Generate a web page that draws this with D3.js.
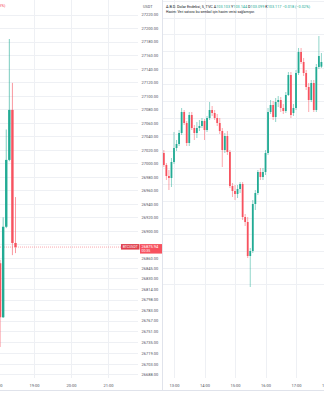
<!DOCTYPE html>
<html><head><meta charset="utf-8">
<script src="https://cdn.jsdelivr.net/npm/d3@7"></script>
<style>
html,body{margin:0;padding:0;background:#fff;overflow:hidden}
svg{display:block}
text{font-family:Roboto,"Liberation Sans",sans-serif}
</style>
</head><body>
<svg id="chart" width="324" height="400"></svg>
<script>
// ---- BTC/USDT, 5 minute (left pane) ----
const btcSymbol = "BTCUSDT";
const btcTime  = ["18:05","18:10","18:15","18:20","18:25","18:30"];
const btcOpen  = [26852, 26772, 26906, 27005, 27079, 26882];
const btcHigh  = [26857, 26920, 27050, 27184, 27119, 26950];
const btcLow   = [26728, 26771, 26904, 27003, 26864, 26867];
const btcClose = [26772, 26906, 27005, 27079, 26882, 26875.94];
const btcPriceTicks = [27220,27200,27180,27160,27140,27120,27100,27080,27060,27040,27020,27000,
  26980,26960,26940,26920,26900,26880,26860,26845,26830,26814,26798,26783,26767,26751,26735,26719,26703,26688];
const btcTimeTicks = ["18:00","19:00","20:00","21:00"];

// ---- DXY, 5 minute (right pane) ----
const dxyTime = ["12:40","12:45","12:50","12:55","13:00","13:05","13:10","13:15","13:20","13:25","13:30","13:35",
  "13:40","13:45","13:50","13:55","14:00","14:05","14:10","14:15","14:20","14:25","14:30","14:35",
  "14:40","14:45","14:50","14:55","15:00","15:05","15:10","15:15","15:20","15:25","15:30","15:35",
  "15:40","15:45","15:50","15:55","16:00","16:05","16:10","16:15","16:20","16:25","16:30","16:35",
  "16:40","16:45","16:50","16:55","17:00","17:05","17:10","17:15","17:20","17:25","17:30","17:35",
  "17:40","17:45","17:50"];
const dxyOpen = [102.844,102.808,102.775,102.769,102.817,102.859,102.871,102.904,102.967,102.934,102.874,102.958,
  102.919,102.904,102.919,102.925,102.940,102.913,102.949,102.973,102.964,102.949,102.934,102.910,
  102.853,102.895,102.847,102.745,102.730,102.721,102.736,102.751,102.652,102.637,102.535,102.550,
  102.691,102.724,102.787,102.772,102.787,102.844,102.967,102.988,102.952,102.997,103.003,102.979,
  102.970,103.018,103.078,102.964,102.979,103.084,103.147,103.117,103.084,103.042,103.003,103.054,
  102.973,103.102,103.103];
const dxyHigh = [102.853,102.814,102.793,102.829,102.907,102.883,102.913,102.979,102.973,102.940,102.967,102.967,
  102.928,102.937,102.943,102.949,102.946,102.955,102.997,102.985,102.973,102.961,102.949,102.919,
  102.904,102.910,102.853,102.754,102.748,102.748,102.757,102.757,102.661,102.652,102.559,102.703,
  102.733,102.793,102.799,102.799,102.853,102.979,103.003,103.000,103.009,103.015,103.012,102.991,
  103.027,103.087,103.087,102.991,103.093,103.159,103.159,103.129,103.093,103.054,103.063,103.063,
  103.111,103.195,103.144];
const dxyLow = [102.802,102.763,102.733,102.742,102.811,102.850,102.865,102.898,102.928,102.865,102.865,102.913,
  102.883,102.889,102.910,102.919,102.883,102.907,102.943,102.955,102.943,102.925,102.901,102.802,
  102.844,102.838,102.739,102.712,102.703,102.709,102.724,102.643,102.625,102.529,102.442,102.544,
  102.673,102.718,102.763,102.763,102.778,102.838,102.961,102.943,102.937,102.982,102.967,102.961,
  102.964,103.015,102.949,102.955,102.973,103.078,103.111,103.075,103.033,102.967,102.997,102.967,
  102.967,103.096,103.099];
const dxyClose = [102.808,102.775,102.769,102.817,102.859,102.871,102.904,102.967,102.934,102.874,102.958,102.919,
  102.904,102.919,102.925,102.940,102.913,102.949,102.973,102.964,102.949,102.934,102.910,102.853,
  102.895,102.847,102.745,102.730,102.721,102.736,102.751,102.652,102.637,102.535,102.550,102.691,
  102.724,102.787,102.772,102.787,102.844,102.967,102.988,102.952,102.997,103.003,102.979,102.970,
  103.018,103.078,102.958,102.979,103.084,103.147,103.117,103.084,103.042,103.003,103.054,102.973,
  103.102,103.135,103.117];
const dxyTimeTicks = ["13:00","14:00","15:00","16:00","17:00","18:00"];

const UP = "#22ab94", DOWN = "#f7525f", GRID = "#eef0f4", AXIS_TXT = "#50535e";
const parseT = d3.timeParse("%H:%M");
const fmtT = d3.timeFormat("%H:%M");

const svg = d3.select("#chart");
svg.append("rect").attr("width", 324).attr("height", 400).attr("fill", "#fff");

const plotBottom = 378;

// ---------- left pane ----------
const xL = d3.scaleTime().domain([parseT("19:00"), parseT("21:00")]).range([34, 108]);
const yL = d3.scaleLinear().domain([26688, 27220]).range([374, 14.7]);

svg.append("clipPath").attr("id", "clipL").append("rect")
  .attr("x", 0).attr("y", 0).attr("width", 138).attr("height", plotBottom);
const left = svg.append("g").attr("clip-path", "url(#clipL)");

// grid
left.selectAll("line.hg").data(btcPriceTicks).join("line")
  .attr("x1", 0).attr("x2", 138)
  .attr("y1", d => Math.round(yL(d)) + 0.5).attr("y2", d => Math.round(yL(d)) + 0.5)
  .attr("stroke", GRID);
left.selectAll("line.vg").data(btcTimeTicks).join("line")
  .attr("x1", d => Math.round(xL(parseT(d))) + 0.5).attr("x2", d => Math.round(xL(parseT(d))) + 0.5)
  .attr("y1", 0).attr("y2", plotBottom).attr("stroke", GRID);

const btc = btcTime.map((t, i) => ({t: parseT(t), o: btcOpen[i], h: btcHigh[i], l: btcLow[i], c: btcClose[i]}));
const btcLast = btc[btc.length - 1];

// last price line
left.append("line")
  .attr("x1", 0).attr("x2", 138)
  .attr("y1", yL(btcLast.c)).attr("y2", yL(btcLast.c))
  .attr("stroke", DOWN).attr("stroke-width", 0.7).attr("stroke-dasharray", "1,1").attr("opacity", 0.7);

const candleL = left.selectAll("g.c").data(btc).join("g");
candleL.append("line")
  .attr("x1", d => xL(d.t)).attr("x2", d => xL(d.t))
  .attr("y1", d => yL(d.h)).attr("y2", d => yL(d.l))
  .attr("stroke", d => d.c >= d.o ? UP : DOWN).attr("stroke-width", 0.6);
candleL.append("rect")
  .attr("x", d => xL(d.t) - 1.2).attr("width", 2.4)
  .attr("y", d => yL(Math.max(d.o, d.c)))
  .attr("height", d => Math.max(0.8, Math.abs(yL(d.o) - yL(d.c))))
  .attr("fill", d => d.c >= d.o ? UP : DOWN);

// left legend tail
left.append("text").attr("x", 5.5).attr("y", 7).attr("text-anchor", "end")
  .attr("font-size", 4).attr("fill", DOWN).text("−9.21 (−0.03%)");

// price axis (labels hidden under the last-price badge are skipped)
const by = yL(btcLast.c);
const visibleTicks = btcPriceTicks.filter(v => Math.abs(yL(v) - (by + 1.5)) > 8);
const axL = svg.append("g").attr("transform", "translate(140,0)")
  .call(d3.axisRight(yL).tickValues(visibleTicks).tickSize(0).tickPadding(1.5).tickFormat(d3.format(".2f")));
axL.select(".domain").remove();
axL.selectAll("text").attr("font-size", 4).attr("fill", AXIS_TXT).attr("font-family", "Roboto,sans-serif");
svg.append("text").attr("x", 143).attr("y", 7.5).attr("font-size", 3.8).attr("fill", AXIS_TXT).text("USDT");

// symbol + last price badges
svg.append("rect").attr("x", 121).attr("y", by - 3).attr("width", 18.5).attr("height", 5.5).attr("fill", "#e0404c");
svg.append("text").attr("x", 130.2).attr("y", by + 1).attr("text-anchor", "middle")
  .attr("font-size", 3.5).attr("fill", "#fff").text(btcSymbol);
svg.append("rect").attr("x", 140).attr("y", by - 3).attr("width", 22).attr("height", 9.5).attr("fill", DOWN);
svg.append("text").attr("x", 141.5).attr("y", by + 1.2).attr("font-size", 4).attr("fill", "#fff")
  .text(d3.format(".2f")(btcLast.c));
svg.append("text").attr("x", 141.5).attr("y", by + 5.4).attr("font-size", 3.5).attr("fill", "#fff").text("00:35");

// time axis left
const axTL = svg.append("g").attr("transform", `translate(0,${plotBottom})`)
  .call(d3.axisBottom(xL).tickValues(btcTimeTicks.map(parseT)).tickSize(0).tickPadding(6.5).tickFormat(fmtT));
axTL.select(".domain").remove();
axTL.selectAll("text").attr("font-size", 4).attr("fill", AXIS_TXT).attr("font-family", "Roboto,sans-serif");

// ---------- right pane ----------
const rx0 = 162.5;
const xR = d3.scaleTime().domain([parseT("13:00"), parseT("18:00")]).range([174, 326.5]);
const yR = d3.scaleLinear().domain([102.403, 103.303]).range([300, 0]);

svg.append("clipPath").attr("id", "clipR").append("rect")
  .attr("x", rx0 + 0.5).attr("y", 0).attr("width", 324 - rx0).attr("height", plotBottom);
const right = svg.append("g").attr("clip-path", "url(#clipR)");

right.selectAll("line.hg").data(yR.ticks(18)).join("line")
  .attr("x1", rx0).attr("x2", 324)
  .attr("y1", d => Math.round(yR(d)) + 0.5).attr("y2", d => Math.round(yR(d)) + 0.5)
  .attr("stroke", GRID);
right.selectAll("line.vg").data(dxyTimeTicks).join("line")
  .attr("x1", d => Math.round(xR(parseT(d))) + 0.5).attr("x2", d => Math.round(xR(parseT(d))) + 0.5)
  .attr("y1", 0).attr("y2", plotBottom).attr("stroke", GRID);

const dxy = dxyTime.map((t, i) => ({t: parseT(t), o: dxyOpen[i], h: dxyHigh[i], l: dxyLow[i], c: dxyClose[i]}));
const candleR = right.selectAll("g.c").data(dxy).join("g");
candleR.append("line")
  .attr("x1", d => xR(d.t)).attr("x2", d => xR(d.t))
  .attr("y1", d => yR(d.h)).attr("y2", d => yR(d.l))
  .attr("stroke", d => d.c >= d.o ? UP : DOWN).attr("stroke-width", 0.5);
candleR.append("rect")
  .attr("x", d => xR(d.t) - 0.9).attr("width", 1.8)
  .attr("y", d => yR(Math.max(d.o, d.c)))
  .attr("height", d => Math.max(0.8, Math.abs(yR(d.o) - yR(d.c))))
  .attr("fill", d => d.c >= d.o ? UP : DOWN);

// legend
const last = dxy[dxy.length - 1];
const prev = dxy[dxy.length - 2];
const chg = last.c - prev.c;
const valCol = last.c >= last.o ? UP : DOWN;
const f3 = d3.format(".3f");
const leg = svg.append("text").attr("x", 166).attr("y", 7.6).attr("font-size", 3.8).attr("fill", "#131722");
leg.append("tspan").text("A.B.D. Dolar Endeksi, 5, TVC ");
[["A", last.o], ["Y", last.h], ["D", last.l], ["K", last.c]].forEach(([k, v]) => {
  leg.append("tspan").attr("fill", "#131722").text(" " + k);
  leg.append("tspan").attr("fill", valCol).text(f3(v));
});
leg.append("tspan").attr("fill", valCol)
  .text(" " + f3(chg).replace("-", "−") + " (" + d3.format(".2%")(chg / prev.c).replace("-", "−") + ")");
svg.append("text").attr("x", 166).attr("y", 13).attr("font-size", 3.4).attr("fill", "#131722")
  .text("Hacim: Veri satıcısı bu sembol için hacim verisi sağlamıyor.");

// time axis right
const axTR = svg.append("g").attr("transform", `translate(0,${plotBottom})`)
  .call(d3.axisBottom(xR).tickValues(dxyTimeTicks.map(parseT)).tickSize(0).tickPadding(6.5).tickFormat(fmtT));
axTR.select(".domain").remove();
axTR.selectAll("text").attr("font-size", 4).attr("fill", AXIS_TXT).attr("font-family", "Roboto,sans-serif");

// pane separators
svg.append("line").attr("x1", rx0).attr("x2", rx0).attr("y1", 0).attr("y2", 390)
  .attr("stroke", "#e0e3eb").attr("stroke-width", 1);
svg.append("line").attr("x1", 0).attr("x2", 324).attr("y1", 390.5).attr("y2", 390.5)
  .attr("stroke", "#e0e3eb").attr("stroke-width", 1);
</script>
</body></html>
